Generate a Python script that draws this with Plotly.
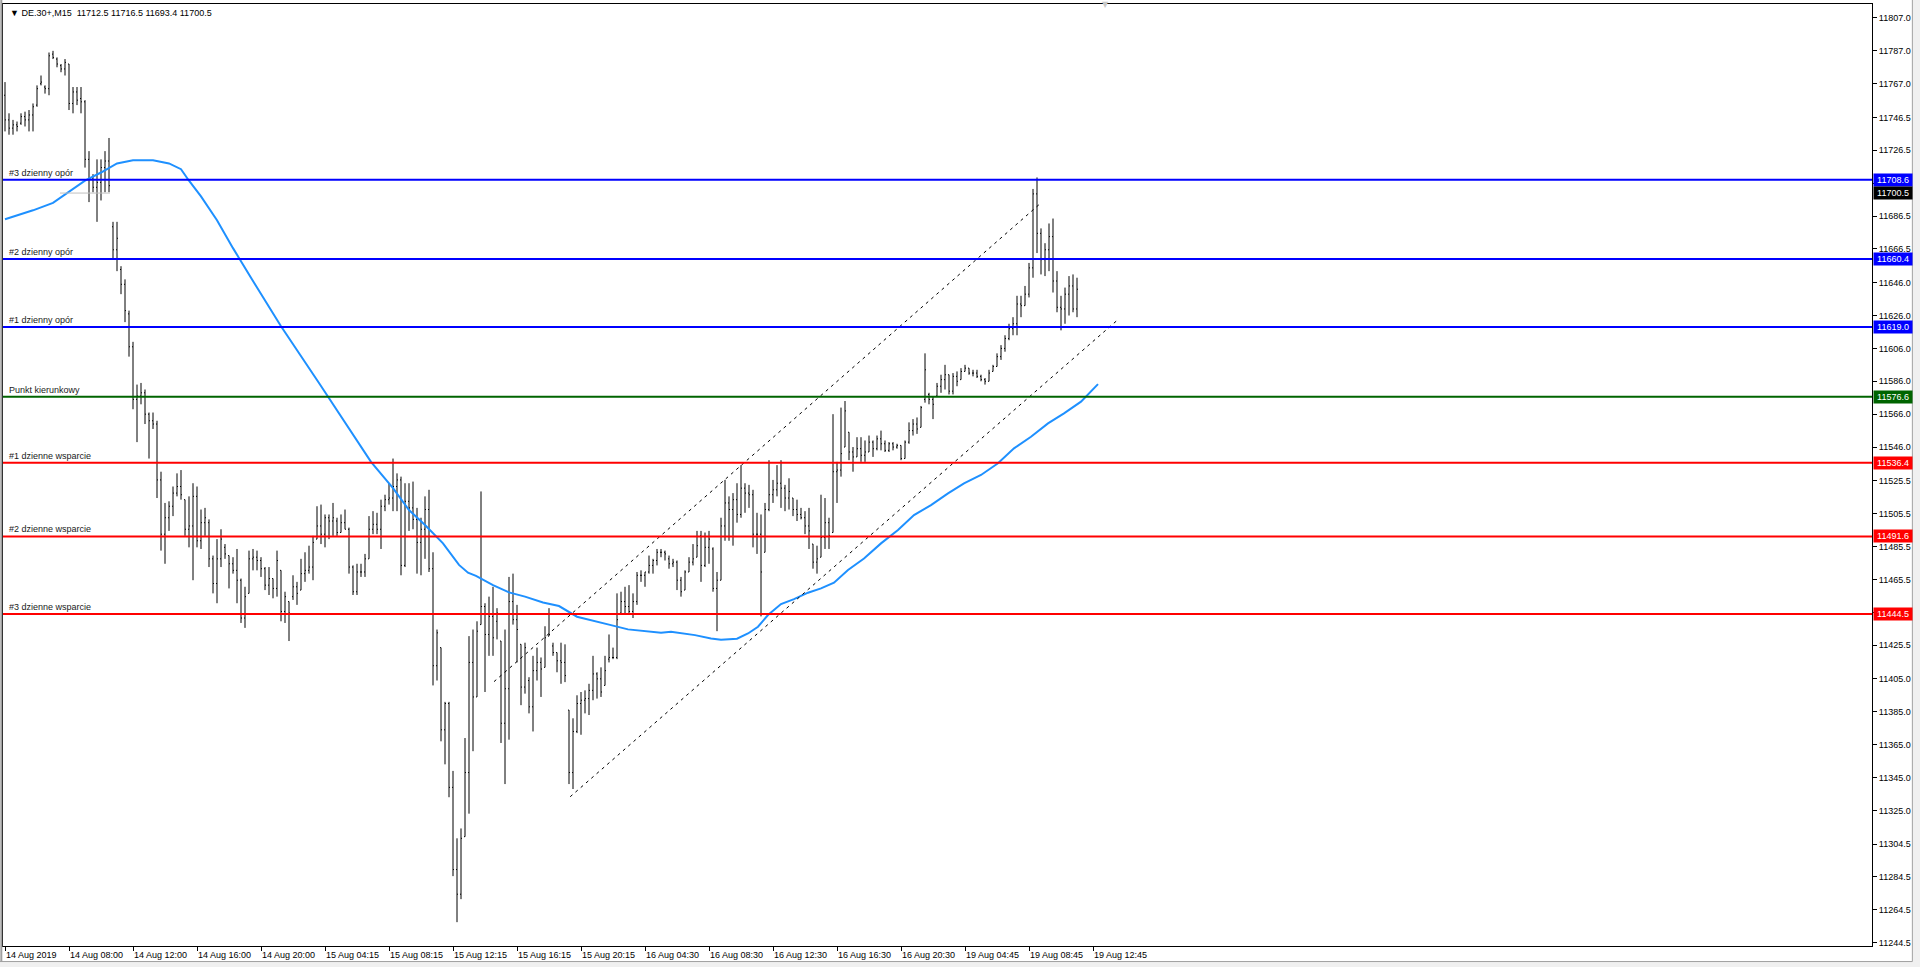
"""
DE.30+ M15 bar chart with daily pivot levels, moving average and trend channel.
"""
import plotly.graph_objects as go

# ---- OHLC bars (15 min) ----
bar_high = [
    11768, 11749, 11745, 11744, 11749, 11750, 11751, 11755, 11766, 11772,
    11766, 11786, 11787, 11783, 11779, 11782, 11779, 11765, 11765, 11765,
    11757, 11726, 11712, 11721, 11721, 11726, 11734, 11683, 11683, 11656,
    11648, 11629, 11610, 11584, 11585, 11581, 11567, 11567, 11562, 11531,
    11512, 11513, 11522, 11530, 11532, 11514, 11516, 11524, 11522, 11508,
    11509, 11502, 11480, 11490, 11496, 11487, 11480, 11479, 11484, 11466,
    11461, 11483, 11484, 11483, 11479, 11473, 11473, 11466, 11483, 11471,
    11458, 11452, 11468, 11464, 11478, 11482, 11486, 11492, 11510, 11511,
    11505, 11505, 11512, 11503, 11505, 11508, 11497, 11474, 11475, 11475,
    11481, 11504, 11507, 11506, 11514, 11517, 11524, 11539, 11530, 11528,
    11524, 11524, 11525, 11509, 11503, 11516, 11520, 11482, 11435, 11424,
    11391, 11391, 11349, 11308, 11314, 11369, 11431, 11435, 11440, 11519,
    11451, 11455, 11461, 11448, 11428, 11435, 11467, 11469, 11450, 11426,
    11427, 11406, 11419, 11424, 11418, 11437, 11448, 11427, 11421, 11427,
    11426, 11386, 11381, 11395, 11397, 11398, 11402, 11419, 11409, 11412,
    11419, 11432, 11424, 11457, 11458, 11461, 11462, 11457, 11470, 11471,
    11470, 11480, 11478, 11484, 11484, 11483, 11480, 11478, 11477, 11467,
    11471, 11479, 11487, 11495, 11495, 11494, 11495, 11485, 11470, 11503,
    11526, 11516, 11518, 11524, 11535, 11524, 11523, 11520, 11506, 11505,
    11512, 11538, 11526, 11535, 11538, 11523, 11527, 11515, 11514, 11509,
    11507, 11509, 11487, 11486, 11517, 11515, 11503, 11566, 11537, 11570,
    11574, 11555, 11546, 11552, 11552, 11550, 11553, 11550, 11553, 11556,
    11550, 11549, 11549, 11548, 11547, 11550, 11561, 11563, 11564, 11571,
    11603, 11579, 11577, 11585, 11590, 11596, 11590, 11591, 11592, 11594,
    11596, 11594, 11593, 11593, 11590, 11588, 11593, 11596, 11603, 11608,
    11614, 11621, 11625, 11638, 11638, 11644, 11658, 11703, 11710, 11679,
    11670, 11682, 11685, 11653, 11638, 11643, 11650, 11651, 11649,
]
bar_low = [
    11738, 11736, 11736, 11738, 11742, 11741, 11738, 11738, 11753, 11766,
    11761, 11760, 11782, 11777, 11774, 11772, 11751, 11749, 11754, 11749,
    11716, 11695, 11701, 11683, 11696, 11701, 11701, 11661, 11653, 11639,
    11622, 11601, 11569, 11549, 11572, 11560, 11539, 11557, 11515, 11483,
    11475, 11495, 11504, 11516, 11514, 11492, 11485, 11465, 11485, 11484,
    11492, 11473, 11457, 11451, 11473, 11478, 11460, 11469, 11451, 11439,
    11436, 11457, 11471, 11471, 11467, 11459, 11456, 11454, 11455, 11440,
    11439, 11428, 11453, 11450, 11459, 11464, 11469, 11465, 11490, 11487,
    11485, 11490, 11492, 11492, 11494, 11496, 11469, 11456, 11456, 11467,
    11467, 11478, 11493, 11493, 11484, 11507, 11511, 11507, 11507, 11468,
    11473, 11495, 11496, 11469, 11468, 11478, 11470, 11401, 11404, 11367,
    11353, 11333, 11285, 11257, 11271, 11309, 11323, 11361, 11394, 11438,
    11397, 11419, 11419, 11429, 11366, 11341, 11368, 11438, 11415, 11389,
    11396, 11384, 11373, 11404, 11394, 11412, 11431, 11419, 11409, 11402,
    11403, 11341, 11338, 11372, 11371, 11384, 11383, 11392, 11393, 11394,
    11401, 11415, 11417, 11417, 11445, 11445, 11445, 11442, 11450, 11464,
    11461, 11469, 11469, 11474, 11479, 11477, 11472, 11473, 11459, 11455,
    11459, 11470, 11474, 11479, 11464, 11473, 11475, 11458, 11434, 11465,
    11489, 11489, 11486, 11500, 11503, 11506, 11509, 11485, 11481, 11443,
    11482, 11507, 11512, 11516, 11509, 11507, 11508, 11504, 11501, 11502,
    11493, 11484, 11472, 11469, 11479, 11484, 11484, 11494, 11512, 11528,
    11546, 11538, 11531, 11540, 11537, 11537, 11543, 11540, 11544, 11544,
    11543, 11543, 11544, 11545, 11538, 11539, 11548, 11553, 11554, 11558,
    11573, 11572, 11563, 11577, 11579, 11581, 11578, 11578, 11583, 11587,
    11592, 11590, 11589, 11588, 11586, 11584, 11586, 11592, 11595, 11599,
    11604, 11611, 11614, 11614, 11625, 11632, 11637, 11649, 11664, 11651,
    11650, 11653, 11640, 11628, 11617, 11621, 11626, 11628, 11625,
]
bar_open = [
    11760, 11745, 11740, 11742, 11743, 11747, 11745, 11748, 11754, 11767,
    11765, 11764, 11785, 11782, 11778, 11776, 11779, 11755, 11762, 11758,
    11756, 11721, 11709, 11704, 11707, 11716, 11720, 11680, 11666, 11654,
    11645, 11627, 11607, 11575, 11577, 11579, 11566, 11562, 11560, 11526,
    11493, 11503, 11510, 11518, 11522, 11514, 11496, 11498, 11516, 11489,
    11500, 11500, 11478, 11463, 11478, 11485, 11480, 11475, 11471, 11465,
    11442, 11457, 11478, 11479, 11477, 11472, 11462, 11466, 11460, 11471,
    11446, 11452, 11455, 11461, 11459, 11469, 11471, 11473, 11490, 11498,
    11493, 11503, 11501, 11501, 11494, 11500, 11496, 11473, 11458, 11470,
    11470, 11478, 11496, 11499, 11496, 11510, 11514, 11515, 11522, 11526,
    11474, 11513, 11509, 11502, 11488, 11496, 11508, 11472, 11413, 11424,
    11374, 11390, 11339, 11289, 11274, 11309, 11348, 11415, 11394, 11438,
    11449, 11432, 11443, 11440, 11428, 11378, 11399, 11452, 11441, 11426,
    11400, 11404, 11388, 11410, 11415, 11412, 11431, 11425, 11421, 11416,
    11415, 11386, 11348, 11373, 11390, 11392, 11393, 11398, 11408, 11405,
    11401, 11417, 11418, 11418, 11445, 11452, 11449, 11446, 11452, 11468,
    11468, 11470, 11474, 11477, 11482, 11482, 11478, 11475, 11476, 11465,
    11459, 11470, 11476, 11479, 11492, 11474, 11485, 11484, 11460, 11465,
    11498, 11512, 11508, 11514, 11505, 11521, 11518, 11517, 11493, 11493,
    11482, 11508, 11517, 11520, 11524, 11521, 11515, 11515, 11508, 11505,
    11503, 11498, 11487, 11476, 11479, 11491, 11500, 11494, 11531, 11532,
    11546, 11555, 11543, 11540, 11545, 11541, 11543, 11549, 11545, 11551,
    11548, 11544, 11548, 11546, 11547, 11539, 11549, 11556, 11560, 11558,
    11575, 11578, 11575, 11577, 11583, 11587, 11590, 11580, 11589, 11587,
    11592, 11594, 11591, 11591, 11589, 11587, 11586, 11592, 11595, 11601,
    11606, 11612, 11618, 11621, 11633, 11632, 11639, 11655, 11700, 11676,
    11660, 11666, 11674, 11647, 11631, 11630, 11639, 11644, 11630,
]
bar_close = [
    11745, 11740, 11742, 11741, 11747, 11745, 11748, 11753, 11764, 11768,
    11764, 11784, 11783, 11779, 11776, 11780, 11755, 11762, 11757, 11756,
    11721, 11709, 11704, 11707, 11716, 11720, 11705, 11666, 11673, 11645,
    11629, 11607, 11575, 11577, 11579, 11566, 11562, 11560, 11526, 11493,
    11503, 11510, 11518, 11522, 11517, 11496, 11498, 11516, 11489, 11500,
    11503, 11478, 11463, 11478, 11490, 11481, 11475, 11471, 11465, 11442,
    11455, 11478, 11479, 11477, 11472, 11462, 11466, 11460, 11477, 11446,
    11455, 11445, 11461, 11457, 11469, 11471, 11473, 11488, 11498, 11493,
    11503, 11501, 11503, 11494, 11500, 11496, 11473, 11458, 11470, 11470,
    11478, 11496, 11499, 11496, 11510, 11514, 11515, 11522, 11526, 11474,
    11513, 11509, 11502, 11488, 11496, 11508, 11472, 11413, 11433, 11374,
    11390, 11339, 11289, 11274, 11308, 11348, 11415, 11394, 11434, 11449,
    11432, 11443, 11430, 11445, 11378, 11399, 11452, 11441, 11435, 11400,
    11424, 11388, 11410, 11415, 11411, 11430, 11432, 11421, 11416, 11415,
    11407, 11348, 11373, 11390, 11392, 11393, 11398, 11408, 11405, 11397,
    11410, 11418, 11418, 11441, 11452, 11449, 11446, 11452, 11468, 11468,
    11470, 11474, 11477, 11482, 11482, 11481, 11475, 11476, 11465, 11458,
    11470, 11476, 11478, 11486, 11474, 11485, 11490, 11460, 11465, 11498,
    11512, 11508, 11514, 11505, 11521, 11518, 11517, 11493, 11493, 11470,
    11508, 11517, 11520, 11524, 11521, 11515, 11519, 11508, 11505, 11503,
    11498, 11495, 11476, 11478, 11491, 11500, 11492, 11531, 11532, 11542,
    11568, 11543, 11540, 11545, 11541, 11543, 11549, 11545, 11551, 11548,
    11544, 11548, 11546, 11547, 11539, 11549, 11556, 11560, 11557, 11570,
    11593, 11575, 11572, 11583, 11587, 11590, 11580, 11589, 11586, 11592,
    11594, 11591, 11591, 11589, 11587, 11586, 11591, 11595, 11601, 11606,
    11612, 11618, 11621, 11633, 11632, 11639, 11655, 11700, 11676, 11660,
    11666, 11674, 11647, 11631, 11630, 11639, 11644, 11630, 11642,
]
bar_index = list(range(len(bar_close)))

# ---- moving average (blue), sampled along the curve ----
ma_bar = [
    0, 7, 12, 16, 20, 24, 28, 32, 37, 41, 44, 46, 49, 53, 57, 61.5, 65.5, 69,
    78.5, 87.75, 91.5, 97, 101, 105, 109.5, 113.5, 115.75, 117.75, 122, 126,
    130, 134.5, 138.5, 143, 147.5, 151.5, 155.75, 160, 164, 166.5, 172.5,
    176.5, 179, 183, 185.75, 188.25, 190.75, 194, 197.25, 200.75, 204, 207.25,
    210.75, 214.75, 219, 223.25, 227.25, 231.5, 235.75, 239.75, 244, 248.25,
    252.25, 256.5, 260.75, 264.75, 269, 273.25,
]
ma_value = [
    11684.6, 11690.0, 11694.5, 11701.0, 11708.0, 11713.0, 11718.5, 11720.5,
    11720.5, 11718.5, 11715.0, 11708.0, 11698.5, 11684.0, 11667.0, 11649.0,
    11633.0, 11619.5, 11585.0, 11550.3, 11537.0, 11521.0, 11507.7, 11498.6,
    11487.4, 11474.3, 11469.6, 11467.6, 11462.0, 11457.6, 11455.0, 11451.5,
    11449.3, 11442.8, 11440.3, 11437.7, 11435.1, 11434.1, 11433.0, 11433.7,
    11431.6, 11429.6, 11428.8, 11429.4, 11432.6, 11436.7, 11443.8, 11450.5,
    11453.5, 11457.4, 11460.0, 11463.5, 11471.2, 11478.2, 11487.4, 11495.5,
    11504.6, 11510.7, 11517.8, 11523.9, 11529.0, 11536.1, 11545.2, 11552.3,
    11560.4, 11566.5, 11573.6, 11584.3,
]

# ---- trend channel (dashed) ----
channel_upper_bar = [122.25, 259.0]
channel_upper_price = [11403.3, 11694.5]
channel_lower_bar = [141.3, 278.0]
channel_lower_price = [11333.3, 11623.0]

# ---- daily pivot levels ----
level_price = [11708.6, 11660.4, 11619.0, 11576.6, 11536.4, 11491.6, 11444.5]
level_name = [
    '#3 dzienny opór', '#2 dzienny opór', '#1 dzienny opór', 'Punkt kierunkowy',
    '#1 dzienne wsparcie', '#2 dzienne wsparcie', '#3 dzienne wsparcie',
]
level_color = ['#0000FF', '#0000FF', '#0000FF', '#006400', '#FF0000', '#FF0000', '#FF0000']

# current bid (short grey segment + black price box)
bid_price = 11700.5
bid_segment_bar = [13.75, 26.25]

# ---- axis ticks ----
x_tick_bar = list(range(0, 273, 16))
x_tick_text = [
    '14 Aug 2019', '14 Aug 08:00', '14 Aug 12:00', '14 Aug 16:00', '14 Aug 20:00',
    '15 Aug 04:15', '15 Aug 08:15', '15 Aug 12:15', '15 Aug 16:15', '15 Aug 20:15',
    '16 Aug 04:30', '16 Aug 08:30', '16 Aug 12:30', '16 Aug 16:30', '16 Aug 20:30',
    '19 Aug 04:45', '19 Aug 08:45', '19 Aug 12:45',
]
y_tick_price = [
    11807.0, 11787.0, 11767.0, 11746.5, 11726.5, 11706.5, 11686.5, 11666.5,
    11646.0, 11626.0, 11606.0, 11586.0, 11566.0, 11546.0, 11525.5, 11505.5,
    11485.5, 11465.5, 11445.5, 11425.5, 11405.0, 11385.0, 11365.0, 11345.0,
    11325.0, 11304.5, 11284.5, 11264.5, 11244.5,
]

header_text = '▼ DE.30+,M15\u00a0\u00a011712.5 11716.5 11693.4 11700.5'
FONT = 'Liberation Sans'

fig = go.Figure()

# Moving average
fig.add_trace(go.Scatter(
    x=ma_bar, y=ma_value, mode='lines',
    line=dict(color='#1E90FF', width=2),
    hoverinfo='skip', showlegend=False
))

# Trend channel
for xs, ys in [(channel_upper_bar, channel_upper_price),
               (channel_lower_bar, channel_lower_price)]:
    fig.add_trace(go.Scatter(
        x=xs, y=ys, mode='lines',
        line=dict(color='black', width=1, dash='3px,4px'),
        hoverinfo='skip', showlegend=False
    ))

# Bid segment
fig.add_trace(go.Scatter(
    x=bid_segment_bar, y=[bid_price] * len(bid_segment_bar), mode='lines',
    line=dict(color='#C0C0C0', width=1),
    hoverinfo='skip', showlegend=False
))

# OHLC bars
fig.add_trace(go.Ohlc(
    x=bar_index, open=bar_open, high=bar_high, low=bar_low, close=bar_close,
    increasing_line_color='black', decreasing_line_color='black',
    line=dict(width=1), tickwidth=0.25, showlegend=False
))

shapes = []
annotations = []

# Pivot levels: lines, left labels, right price boxes
for price, name, color in zip(level_price, level_name, level_color):
    shapes.append(dict(
        type='line', xref='paper', yref='y', x0=0, x1=1, y0=price, y1=price,
        line=dict(color=color, width=2), layer='above'
    ))
    annotations.append(dict(
        xref='paper', yref='y', x=0, y=price, xanchor='left', yanchor='bottom',
        xshift=4, yshift=0, text=name, showarrow=False,
        font=dict(family=FONT, size=9, color='#1a1a1a')
    ))
    annotations.append(dict(
        xref='paper', yref='y', x=1, y=price, xanchor='left', yanchor='middle',
        xshift=1, text=f'{price:.1f}', showarrow=False, bgcolor=color,
        borderpad=1, width=36, align='center',
        font=dict(family=FONT, size=9, color='white')
    ))

annotations.append(dict(
    xref='paper', yref='y', x=1, y=bid_price, xanchor='left', yanchor='middle',
    xshift=1, text=f'{bid_price:.1f}', showarrow=False, bgcolor='black',
    borderpad=1, width=36, align='center',
    font=dict(family=FONT, size=9, color='white')
))

# Header
annotations.append(dict(
    xref='paper', yref='paper', x=0, y=1, xanchor='left', yanchor='top',
    xshift=5, yshift=-2, text=header_text, showarrow=False,
    font=dict(family=FONT, size=9, color='black')
))

# chart-shift marker at the top
annotations.append(dict(
    xref='x', yref='paper', x=275, y=1, xanchor='center', yanchor='bottom',
    yshift=-7, text='▼', showarrow=False,
    font=dict(family='DejaVu Sans', size=8, color='#C8C8C8')
))

# window frame (outer grey border)
shapes.append(dict(type='rect', xref='paper', yref='paper',
                   x0=-0.0016, x1=1.0257, y0=-0.0223, y1=-0.0165,
                   fillcolor='#F0F0F0', line=dict(width=0), layer='below'))
shapes.append(dict(type='rect', xref='paper', yref='paper',
                   x0=1.0218, x1=1.0257, y0=-0.0223, y1=1.0043,
                   fillcolor='#F0F0F0', line=dict(width=0), layer='below'))
shapes.append(dict(type='line', xref='paper', yref='paper',
                   x0=1.0216, x1=1.0216, y0=-0.0165, y1=1.0043,
                   line=dict(color='#A0A0A0', width=1)))
shapes.append(dict(type='line', xref='paper', yref='paper',
                   x0=-0.0016, x1=1.0216, y0=-0.0165, y1=-0.0165,
                   line=dict(color='#A0A0A0', width=1)))
shapes.append(dict(type='line', xref='paper', yref='paper',
                   x0=-0.0009, x1=-0.0009, y0=-0.0165, y1=1.0043,
                   line=dict(color='#A0A0A0', width=2)))

fig.update_layout(
    width=1920, height=967,
    margin=dict(l=3, r=48, t=4, b=21),
    paper_bgcolor='white', plot_bgcolor='white',
    showlegend=False, hovermode=False,
    xaxis_rangeslider_visible=False,
    shapes=shapes, annotations=annotations,
    font=dict(family=FONT, size=9, color='black'),
)

fig.update_xaxes(
    range=[-0.5, 466.75], tickmode='array', tickvals=x_tick_bar, ticktext=x_tick_text,
    ticks='outside', ticklen=4, tickcolor='black', ticklabelposition='outside right',
    showline=True, linecolor='black', linewidth=1, mirror=True,
    showgrid=False, zeroline=False, fixedrange=True,
    tickfont=dict(family=FONT, size=9, color='black')
)
fig.update_yaxes(
    range=[11242.5, 11815.5], side='right', tickmode='array', tickvals=y_tick_price,
    ticktext=[f'{v:.1f}' for v in y_tick_price],
    ticks='outside', ticklen=4, tickcolor='black',
    showline=True, linecolor='black', linewidth=1, mirror=True,
    showgrid=False, zeroline=False, fixedrange=True,
    tickfont=dict(family=FONT, size=9, color='black')
)

fig.write_html(
    "out.html",
    config={'displayModeBar': False, 'staticPlot': True},
    post_script="document.body.style.margin='0';document.body.style.overflow='hidden';"
)
